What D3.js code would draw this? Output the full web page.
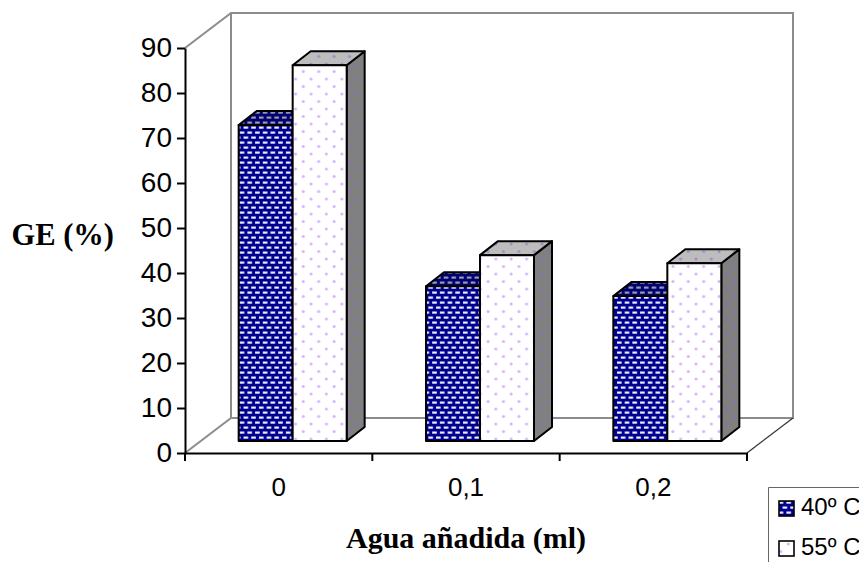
<!DOCTYPE html>
<html><head><meta charset="utf-8">
<script src="https://cdnjs.cloudflare.com/ajax/libs/d3/7.8.5/d3.min.js"></script>
<style>html,body{margin:0;padding:0;background:#fff;overflow:hidden}svg{display:block}</style>
</head><body><svg id="c" width="859" height="562"></svg>
<script>
const categories = ["0", "0,1", "0,2"];
const seriesNames = ["40º C", "55º C"];
const values40 = [70.2, 34.4, 32.2];
const values55 = [83.5, 41.3, 39.5];
const yTicks = [0,10,20,30,40,50,60,70,80,90];

const svg = d3.select("#c");
const x0 = 185, x1 = 747, y0 = 453, y1 = 48;
const wallDx = 46, wallDy = -35, barDx = 18, barDy = -14, offX = 14, offY = -12;
const x = d3.scaleBand().domain(categories).range([x0, x1]).paddingInner(0).paddingOuter(0);
const barW = 54;
const y = d3.scaleLinear().domain([0, 90]).range([y0, y1]);

const defs = svg.append("defs");
function mk(id, bg, draw) {
  const p = defs.append("pattern").attr("id", id).attr("patternUnits", "userSpaceOnUse")
    .attr("width", draw.w).attr("height", draw.h);
  p.append("rect").attr("width", draw.w).attr("height", draw.h).attr("fill", bg);
  draw.f(p);
}
const dashes = (col) => ({ w: 7.7, h: 10, f: p => {
  p.append("rect").attr("x", 1).attr("y", 1.5).attr("width", 4.6).attr("height", 2.2).attr("fill", col);
  p.append("rect").attr("x", 4.85).attr("y", 6.5).attr("width", 4.6).attr("height", 2.2).attr("fill", col);
  p.append("rect").attr("x", -2.85).attr("y", 6.5).attr("width", 4.6).attr("height", 2.2).attr("fill", col);
}});
const dots = (col) => ({ w: 15.4, h: 15, f: p => {
  p.append("circle").attr("cx", 3).attr("cy", 4).attr("r", 1.5).attr("fill", col);
  p.append("circle").attr("cx", 10.7).attr("cy", 11.5).attr("r", 1.5).attr("fill", col);
}});
mk("blueFront", "#000090", dashes("#eeeef8"));
mk("blueTop", "#000070", dashes("#9a9ab4"));
mk("blueSide", "#000050", dashes("#777790"));
mk("whiteFront", "#ffffff", dots("#d8b4fe"));
mk("whiteTop", "#bdbdbd", dots("#a98ac8"));
mk("whiteSide", "#808080", dots("#8f6cb0"));

// walls
const wall = svg.append("g").attr("fill", "none").attr("stroke", "#8c8c8c").attr("stroke-width", 2);
const line = d3.line();
wall.append("path").attr("d", line([[x0, y1],[x0+wallDx, y1+wallDy],[x1+wallDx, y1+wallDy],[x1+wallDx, y0+wallDy],[x0+wallDx, y0+wallDy],[x0+wallDx, y1+wallDy]]));
wall.append("path").attr("d", line([[x0, y0],[x0+wallDx, y0+wallDy]]));
svg.append("path").attr("d", line([[x1, y0],[x1+wallDx, y0+wallDy]])).attr("stroke", "#333").attr("stroke-width", 1.2).attr("fill", "none");

// bars
const series = [{vals: values40, pat: "blue", idx: 0}, {vals: values55, pat: "white", idx: 1}];
const gapX = (x.bandwidth() - 2 * barW) / 2;
const bars = [];
categories.forEach((c, i) => series.forEach(s => bars.push({c, v: s.vals[i], pat: s.pat, idx: s.idx})));
const g = svg.append("g").attr("stroke", "#000").attr("stroke-width", 2).attr("stroke-linejoin", "round");
bars.forEach(b => {
  const l = x(b.c) + gapX + offX + b.idx * barW;
  const r = l + barW;
  const t = y(b.v) + offY;
  const bt = y(0) + offY;
  g.append("path").attr("fill", `url(#${b.pat}Side)`)
    .attr("d", line([[r, t],[r+barDx, t+barDy],[r+barDx, bt+barDy],[r, bt]])+"Z");
  g.append("path").attr("fill", `url(#${b.pat}Top)`)
    .attr("d", line([[l, t],[l+barDx, t+barDy],[r+barDx, t+barDy],[r, t]])+"Z");
  g.append("rect").attr("x", l).attr("y", t).attr("width", barW).attr("height", bt - t)
    .attr("fill", `url(#${b.pat}Front)`);
});

// axes
const ax = svg.append("g").attr("transform", `translate(0,${y0})`)
  .call(d3.axisBottom(x).tickSizeOuter(0).tickSizeInner(0).tickPadding(24.5));
ax.select(".domain").attr("stroke", "#000").attr("stroke-width", 2);
ax.selectAll("text").attr("font-family", "'Liberation Sans'").attr("font-size", 26).attr("fill", "#000");
ax.selectAll(".edge").data([x0, x(categories[1]), x(categories[2]), x1]).enter().append("line")
  .attr("x1", d => d).attr("x2", d => d).attr("y1", 0).attr("y2", 8).attr("stroke", "#000").attr("stroke-width", 2);

const ay = svg.append("g").attr("transform", `translate(${x0},0)`)
  .call(d3.axisLeft(y).tickValues(yTicks).tickSize(8).tickSizeOuter(0).tickPadding(5));
ay.select(".domain").attr("stroke", "#000").attr("stroke-width", 2);
ay.selectAll("line").attr("stroke", "#000").attr("stroke-width", 2);
ay.selectAll("text").attr("font-family", "'Liberation Sans'").attr("font-size", 28).attr("fill", "#000");

// titles
svg.append("text").attr("x", 114).attr("y", 245).attr("text-anchor", "end")
  .attr("font-family", "'Liberation Serif'").attr("font-weight", "bold").attr("font-size", 30.5).text("GE (%)");
svg.append("text").attr("x", 466).attr("y", 548).attr("text-anchor", "middle")
  .attr("font-family", "'Liberation Serif'").attr("font-weight", "bold").attr("font-size", 30).text("Agua añadida (ml)");

// legend
svg.append("path").attr("d", line([[859, 487.5],[768.5, 487.5],[768.5, 562]])).attr("fill", "none").attr("stroke", "#666").attr("stroke-width", 1);
const leg = svg.append("g");
seriesNames.forEach((n, i) => {
  const cy = 508 + i * 40;
  leg.append("rect").attr("x", 779).attr("y", cy - 7).attr("width", 15).attr("height", 15)
    .attr("fill", `url(#${["blue","white"][i]}Front)`).attr("stroke", "#000").attr("stroke-width", 1.6);
  leg.append("text").attr("x", 801).attr("y", cy + 7).attr("font-family", "'Liberation Sans'").attr("font-size", 24).text(n);
});
</script></body></html>
